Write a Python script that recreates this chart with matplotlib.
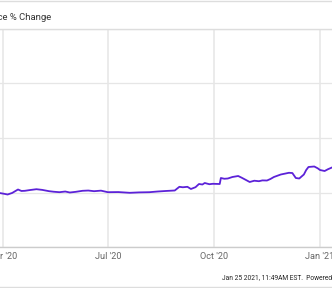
import matplotlib
matplotlib.use('Agg')
import matplotlib.pyplot as plt
from matplotlib.lines import Line2D
import datetime as dt

plt.rcParams['font.family'] = ['Roboto', 'DejaVu Sans']

# price % change
dates = ['2020-03-29', '2020-04-02', '2020-04-05', '2020-04-09', '2020-04-14',
         '2020-04-17', '2020-04-20', '2020-04-24', '2020-04-30', '2020-05-05',
         '2020-05-11', '2020-05-15', '2020-05-20', '2020-05-25', '2020-05-29',
         '2020-06-03', '2020-06-09', '2020-06-14', '2020-06-19', '2020-06-25',
         '2020-07-01', '2020-07-10', '2020-07-20', '2020-07-28', '2020-08-06',
         '2020-08-13', '2020-08-20', '2020-08-28', '2020-09-01', '2020-09-04',
         '2020-09-08', '2020-09-11', '2020-09-15', '2020-09-18', '2020-09-21',
         '2020-09-23', '2020-09-27', '2020-09-30', '2020-10-06', '2020-10-07',
         '2020-10-10', '2020-10-13', '2020-10-17', '2020-10-22', '2020-10-25',
         '2020-10-28', '2020-11-01', '2020-11-05', '2020-11-09', '2020-11-12',
         '2020-11-16', '2020-11-19', '2020-11-22', '2020-11-28', '2020-12-02',
         '2020-12-05', '2020-12-08', '2020-12-11', '2020-12-14', '2020-12-18',
         '2020-12-20', '2020-12-22', '2020-12-27', '2020-12-30', '2021-01-01',
         '2021-01-05', '2021-01-08', '2021-01-11']
pct_change = [-0.23, -0.60, -0.92, -0.20, 1.38,
              0.70, 0.78, 1.10, 1.51, 1.20,
              0.60, 0.35, 0.14, 0.45, 0.00,
              0.30, 0.78, 0.90, 0.60, 0.85,
              0.14, 0.20, -0.14, 0.05, 0.14,
              0.45, 0.69, 0.92, 2.61, 2.40,
              2.61, 1.61, 2.43, 3.90, 3.67,
              4.36, 3.80, 3.99, 3.90, 6.65,
              6.30, 6.42, 7.11, 7.57, 6.80,
              5.96, 4.82, 5.40, 5.18, 5.55,
              5.50, 6.20, 7.11, 8.26, 8.70,
              9.04, 8.94, 6.65, 6.42, 8.26,
              10.30, 11.70, 11.93, 11.10, 10.32,
              9.86, 10.70, 11.38]

tick_dates = ['2020-04-01', '2020-07-01', '2020-10-01', '2021-01-01']
tick_labels = ["Apr '20", "Jul '20", "Oct '20", "Jan '21"]

x = [dt.datetime.strptime(d, '%Y-%m-%d') for d in dates]
ticks = [dt.datetime.strptime(d, '%Y-%m-%d') for d in tick_dates]

fig = plt.figure(figsize=(3.32, 2.88), dpi=100)
ax = fig.add_axes([0, 41 / 288, 1, 218 / 288])

ax.plot(x, pct_change, color='#5c22d8', lw=1.3, solid_joinstyle='round')

start = dt.datetime(2020, 4, 1)
ax.set_xlim(start - dt.timedelta(days=2.6), start + dt.timedelta(days=285.4))
ax.set_ylim(-25, 75)
ax.set_yticks([-25, 0, 25, 50, 75])
ax.set_xticks(ticks)
ax.set_xticklabels(tick_labels)
ax.tick_params(axis='x', length=0, pad=3.8, labelsize=6.6, labelcolor='#666666')
ax.tick_params(axis='y', length=0, labelleft=False)

ax.grid(axis='y', color='#e6e6e6', lw=0.9)
ax.grid(axis='x', color='#ebebeb', lw=1.4)
ax.set_axisbelow(True)
for s in ['top', 'left', 'right']:
    ax.spines[s].set_visible(False)
ax.spines['bottom'].set_color('#cccccc')
ax.spines['bottom'].set_linewidth(1.0)

# frame lines of the widget
fig.add_artist(Line2D([0, 1], [1 - 0.7 / 288, 1 - 0.7 / 288], color='#dddddd', lw=1.0))
fig.add_artist(Line2D([0, 1], [1 - 29.2 / 288, 1 - 29.2 / 288], color='#dddddd', lw=1.0))
fig.add_artist(Line2D([0, 1], [0.7 / 288, 0.7 / 288], color='#dddddd', lw=1.0))

fig.text(51 / 332, 1 - 18 / 288, 'Price % Change', ha='right', va='center',
         fontsize=6.8, color='#333333')
fig.text(222 / 332, 1 - 279 / 288, 'Jan 25 2021, 11:49AM EST.  Powered by YCharts',
         ha='left', va='center', fontsize=4.8, color='#222222')

fig.savefig('out.png', dpi=100)
